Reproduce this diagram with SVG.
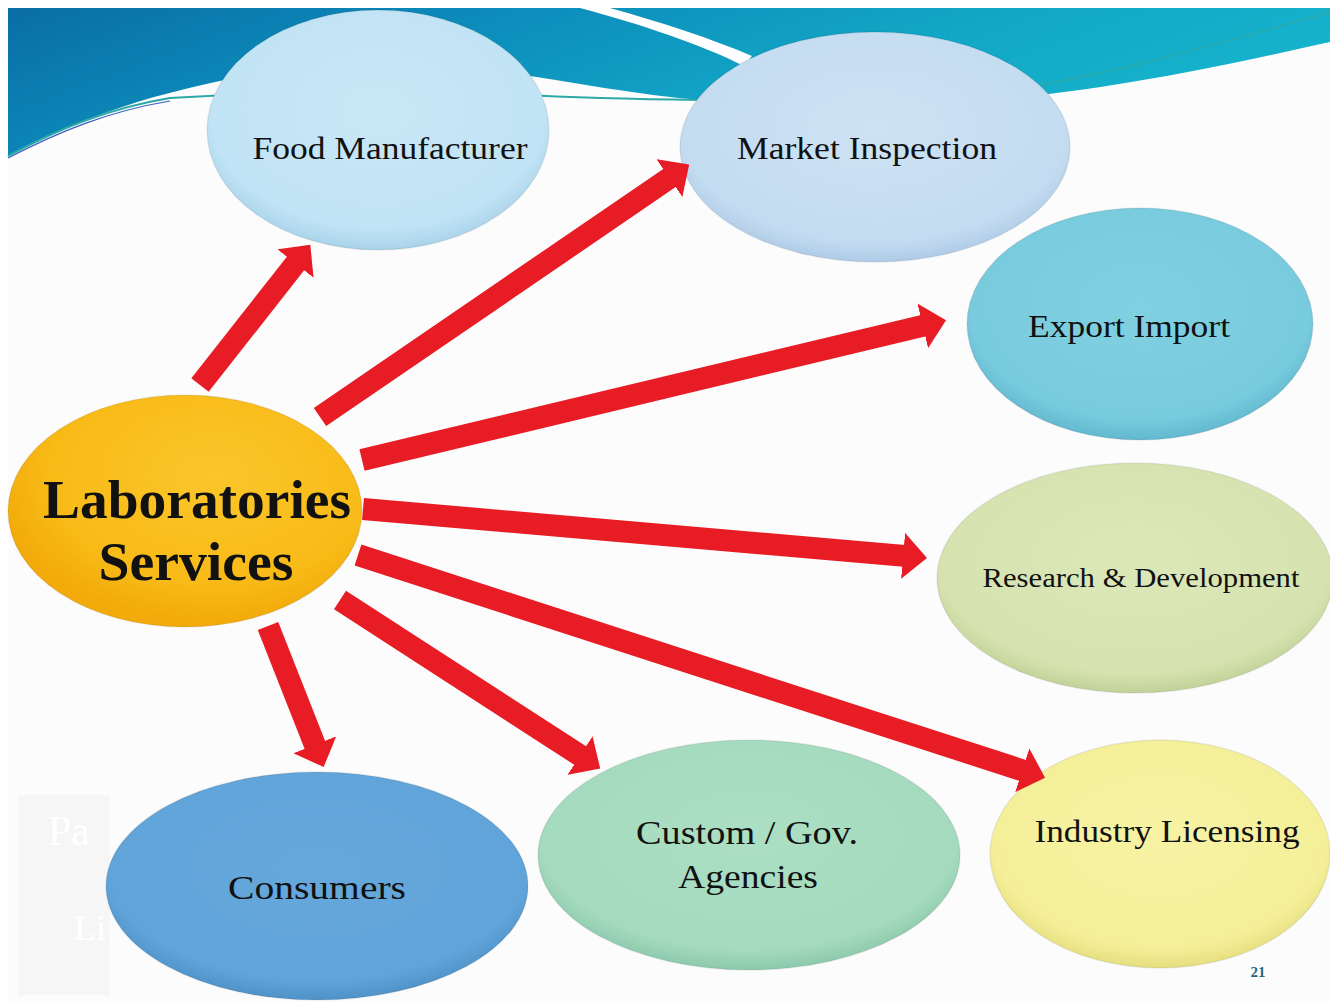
<svg xmlns="http://www.w3.org/2000/svg" width="1330" height="1002" viewBox="0 0 1330 1002">
  <defs>
    <style>
      .lbl { font-family: "Liberation Serif", "DejaVu Serif", serif; fill: #111; text-anchor: middle; }
      .node-shape { stroke: rgba(0,0,0,0.07); stroke-width: 1.5; }
      .arrow { stroke: #e81c24; stroke-width: 22; fill: none; marker-end: url(#ah); }
    </style>
    <marker id="ah" markerUnits="strokeWidth" viewBox="0 0 24 46" markerWidth="1.09" markerHeight="2.09" refX="1" refY="23" orient="auto">
      <path d="M0,0 L24,23 L0,46 Z" fill="#e81c24"/>
    </marker>
    <linearGradient id="banner" x1="0" y1="0" x2="1" y2="0.3">
      <stop offset="0" stop-color="#0a6ea4"/>
      <stop offset="0.35" stop-color="#0c8cbb"/>
      <stop offset="0.7" stop-color="#12a7c6"/>
      <stop offset="1" stop-color="#16b3cc"/>
    </linearGradient>
    <radialGradient id="gFood" cx="50%" cy="42%" r="58%">
      <stop offset="0" stop-color="#c9e8f7"/>
      <stop offset="0.85" stop-color="#c0e3f5"/>
      <stop offset="1" stop-color="#a9d3ea"/>
    </radialGradient>
    <radialGradient id="gMarket" cx="50%" cy="42%" r="58%">
      <stop offset="0" stop-color="#cde2f4"/>
      <stop offset="0.85" stop-color="#c4dcf1"/>
      <stop offset="1" stop-color="#aecbe6"/>
    </radialGradient>
    <radialGradient id="gExport" cx="50%" cy="42%" r="58%">
      <stop offset="0" stop-color="#80d0e1"/>
      <stop offset="0.85" stop-color="#78cbdd"/>
      <stop offset="1" stop-color="#62b8cf"/>
    </radialGradient>
    <radialGradient id="gResearch" cx="50%" cy="42%" r="58%">
      <stop offset="0" stop-color="#dce8b8"/>
      <stop offset="0.85" stop-color="#d6e3b0"/>
      <stop offset="1" stop-color="#c2d199"/>
    </radialGradient>
    <radialGradient id="gIndustry" cx="50%" cy="42%" r="58%">
      <stop offset="0" stop-color="#f7f3a4"/>
      <stop offset="0.85" stop-color="#f4ef98"/>
      <stop offset="1" stop-color="#e6df80"/>
    </radialGradient>
    <radialGradient id="gCustom" cx="50%" cy="42%" r="58%">
      <stop offset="0" stop-color="#acdfc4"/>
      <stop offset="0.85" stop-color="#a4dabd"/>
      <stop offset="1" stop-color="#8cc9ac"/>
    </radialGradient>
    <radialGradient id="gCons" cx="50%" cy="42%" r="58%">
      <stop offset="0" stop-color="#66a8dc"/>
      <stop offset="0.85" stop-color="#61a4d9"/>
      <stop offset="1" stop-color="#4f92c8"/>
    </radialGradient>
    <radialGradient id="gLab" cx="58%" cy="35%" r="62%">
      <stop offset="0" stop-color="#fbc62a"/>
      <stop offset="0.75" stop-color="#f8ba17"/>
      <stop offset="1" stop-color="#f2ab0a"/>
    </radialGradient>
  </defs>

  <!-- page background -->
  <rect x="0" y="0" width="1330" height="1002" fill="#ffffff"/>
  <rect x="8" y="8" width="1322" height="994" fill="#fcfcfc"/>
  <rect x="18" y="795" width="92" height="200" fill="#f6f6f6"/>
  <text x="48" y="845" font-family="Liberation Serif, serif" font-size="42" fill="#ffffff">Pa</text>
  <text x="74" y="940" font-family="Liberation Serif, serif" font-size="36" fill="#ffffff">Li</text>

  <!-- top banner -->
  <path d="M8,8 L1330,8 L1330,42 C1240,62 1100,94 960,102 L700,100 C600,92 480,62 400,62 C250,64 110,100 8,156 Z" fill="url(#banner)"/>
  <path d="M580,8 L610,8 C660,22 710,38 752,56 L744,66 C700,44 640,24 580,8 Z" fill="#ffffff"/>
  <path d="M8,156 C60,128 110,108 170,98 L400,86 C470,92 540,98 700,100" fill="none" stroke="#2aa9a8" stroke-width="2"/>
  <path d="M8,158 C60,131 110,111 170,101" fill="none" stroke="#3a5fc0" stroke-width="1.2"/>
  <path d="M960,98 C1100,80 1230,40 1330,12" fill="none" stroke="#2aa9a8" stroke-width="1.5"/>

  <!-- nodes -->
  <g id="node-food">
    <ellipse class="node-shape" cx="378" cy="130" rx="171" ry="120" fill="url(#gFood)"/>
    <text class="lbl" x="390" y="159" font-size="32" textLength="275" lengthAdjust="spacingAndGlyphs">Food Manufacturer</text>
  </g>
  <g id="node-market">
    <ellipse class="node-shape" cx="875" cy="147" rx="195" ry="115" fill="url(#gMarket)"/>
    <text class="lbl" x="867" y="159" font-size="32" textLength="260" lengthAdjust="spacingAndGlyphs">Market Inspection</text>
  </g>
  <g id="node-export">
    <ellipse class="node-shape" cx="1140" cy="324" rx="173" ry="116" fill="url(#gExport)"/>
    <text class="lbl" x="1129" y="337" font-size="32" textLength="202" lengthAdjust="spacingAndGlyphs">Export Import</text>
  </g>
  <g id="node-research">
    <ellipse class="node-shape" cx="1135" cy="578" rx="198" ry="115" fill="url(#gResearch)"/>
    <text class="lbl" x="1141" y="587" font-size="28" textLength="317" lengthAdjust="spacingAndGlyphs">Research &amp; Development</text>
  </g>
  <g id="node-industry">
    <ellipse class="node-shape" cx="1160" cy="854" rx="170" ry="114" fill="url(#gIndustry)"/>
    <text class="lbl" x="1167" y="842" font-size="32" textLength="265" lengthAdjust="spacingAndGlyphs">Industry Licensing</text>
  </g>
  <g id="node-custom">
    <ellipse class="node-shape" cx="749" cy="855" rx="211" ry="115" fill="url(#gCustom)"/>
    <text class="lbl" x="747" y="844" font-size="34" textLength="222" lengthAdjust="spacingAndGlyphs">Custom / Gov.</text>
    <text class="lbl" x="748" y="888" font-size="34" textLength="140" lengthAdjust="spacingAndGlyphs">Agencies</text>
  </g>
  <g id="node-consumers">
    <ellipse class="node-shape" cx="317" cy="886" rx="211" ry="114" fill="url(#gCons)"/>
    <text class="lbl" x="317" y="899" font-size="34" textLength="178" lengthAdjust="spacingAndGlyphs">Consumers</text>
  </g>
  <g id="node-lab">
    <ellipse class="node-shape" cx="185" cy="511" rx="177" ry="116" fill="url(#gLab)"/>
    <text class="lbl" x="197" y="518" font-size="54" font-weight="bold" textLength="308" lengthAdjust="spacingAndGlyphs">Laboratories</text>
    <text class="lbl" x="196" y="580" font-size="54" font-weight="bold" textLength="195" lengthAdjust="spacingAndGlyphs">Services</text>
  </g>

  <!-- connectors -->
  <g id="connectors">
    <line class="arrow" x1="200" y1="385" x2="296.1" y2="262.8"/>
    <line class="arrow" x1="320" y1="417" x2="670.2" y2="177.5"/>
    <line class="arrow" x1="362" y1="460" x2="923.7" y2="325.6"/>
    <line class="arrow" x1="363" y1="509" x2="904.1" y2="555.9"/>
    <line class="arrow" x1="358" y1="555" x2="1023.2" y2="770.6"/>
    <line class="arrow" x1="340" y1="600" x2="580.9" y2="756"/>
    <line class="arrow" x1="268" y1="626" x2="315.2" y2="745.7"/>
  </g>

  <text x="1258" y="977" font-family="Liberation Serif, serif" font-size="15" font-weight="bold" fill="#1f6a82" text-anchor="middle">21</text>
</svg>
